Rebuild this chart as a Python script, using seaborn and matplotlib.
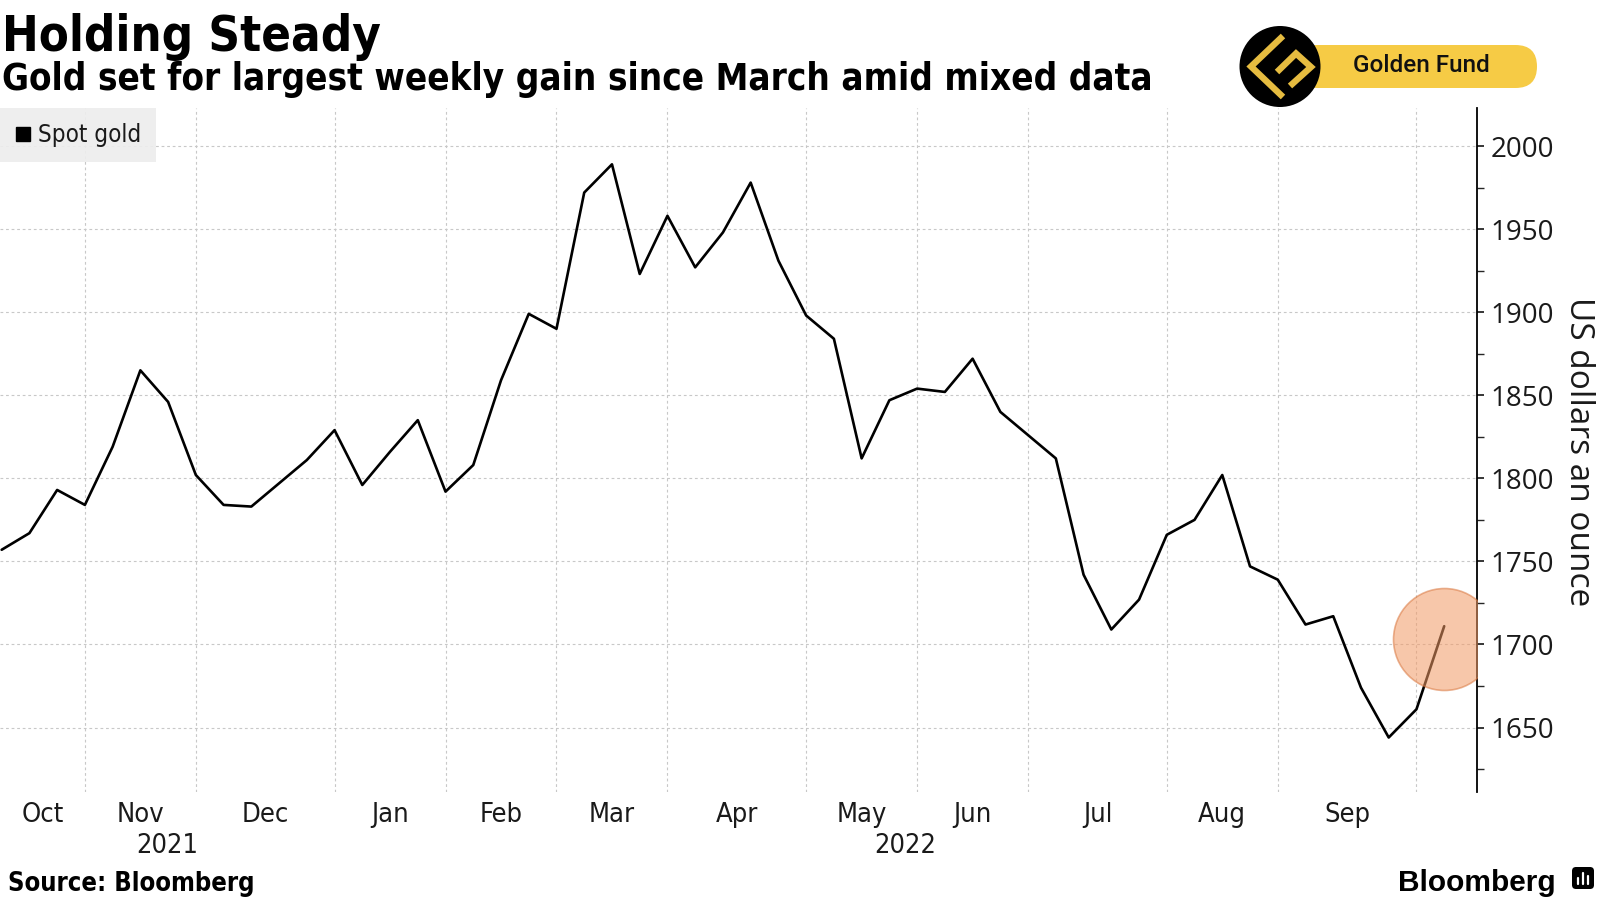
import numpy as np
import pandas as pd
import matplotlib
matplotlib.use("Agg")
import matplotlib.pyplot as plt
import matplotlib.dates as mdates
import matplotlib.ticker as mticker
from matplotlib.lines import Line2D
from matplotlib.patches import Circle, FancyBboxPatch
from matplotlib import font_manager as fm
import seaborn as sns

# ---------------- data ----------------
start_date = "2021-10-08"          # weekly observations (Fridays)
gold_price = [1757, 1767, 1793, 1784, 1819, 1865, 1846, 1802, 1784, 1783,
              1797, 1811, 1829, 1796, 1816, 1835, 1792, 1808, 1859, 1899,
              1890, 1972, 1989, 1923, 1958, 1927, 1948, 1978, 1931, 1898,
              1884, 1812, 1847, 1854, 1852, 1872, 1840, 1826, 1812, 1742,
              1709, 1727, 1766, 1775, 1802, 1747, 1739, 1712, 1717, 1674,
              1644, 1661, 1711]
month_labels = ["Oct", "Nov", "Dec", "Jan", "Feb", "Mar", "Apr", "May",
                "Jun", "Jul", "Aug", "Sep"]
year_labels = ["2021", "2022"]
y_ticks = [1650, 1700, 1750, 1800, 1850, 1900, 1950, 2000]
highlight_value = 1703
series_name = "Spot gold"
title = "Holding Steady"
subtitle = "Gold set for largest weekly gain since March amid mixed data"
source = "Source: Bloomberg"
y_label = "US dollars an ounce"

dates = pd.date_range(start_date, periods=len(gold_price), freq="7D")
df = pd.DataFrame({"date": dates, "price": gold_price})

# ---------------- fonts ----------------
sns.set_theme(style="white")
cond_ok = any(f.name == "DejaVu Sans" and str(f.stretch) not in ("normal", "500")
              for f in fm.fontManager.ttflist)
plt.rcParams["font.family"] = ["DejaVu Sans"]
if cond_ok:
    plt.rcParams["font.stretch"] = "condensed"
    SF = 1.0
else:
    SF = 0.9

# ---------------- figure ----------------
fig = plt.figure(figsize=(16, 9), dpi=100)
fig.patch.set_facecolor("white")
ax = fig.add_axes([0.0, 0.12, 1476.7 / 1600, 0.76])
ax.set_facecolor("white")

sns.lineplot(data=df, x="date", y="price", ax=ax, color="black",
             linewidth=1.9, legend=False, zorder=2)

# x range and month boundaries (last weekly point of each month)
x0 = mdates.date2num(dates[0]) - 0.42
x1 = mdates.date2num(dates[-1]) + 8.2
ax.set_xlim(x0, x1)
ax.set_ylim(1611.2, 2022.9)

df["month"] = df["date"].dt.to_period("M")
month_ends = pd.to_datetime(df.groupby("month")["date"].max().values[:-1])
bnums = mdates.date2num(month_ends)
edges = np.concatenate([[x0], bnums])
mids = (edges[:-1] + edges[1:]) / 2

ax.xaxis.set_major_locator(mticker.FixedLocator(bnums))
ax.xaxis.set_major_formatter(mticker.NullFormatter())
ax.xaxis.set_minor_locator(mticker.FixedLocator(mids))
ax.xaxis.set_minor_formatter(mticker.FixedFormatter(month_labels))
ax.tick_params(axis="x", which="both", length=0)
ax.tick_params(axis="x", which="minor", pad=7, labelsize=19.5 * SF,
               labelcolor="#1a1a1a")

# year labels
year_end = mdates.date2num(df.groupby(df["date"].dt.year)["date"].max().iloc[0])
year_mids = [(x0 + year_end) / 2, (year_end + x1) / 2]
for xm, lab in zip(year_mids, year_labels):
    ax.text(xm, -0.079, lab, transform=ax.get_xaxis_transform(),
            ha="center", va="center", fontsize=19.5 * SF, color="#1a1a1a")

# y axis on the right
ax.yaxis.tick_right()
ax.yaxis.set_major_locator(mticker.FixedLocator(y_ticks))
ax.yaxis.set_minor_locator(mticker.MultipleLocator(25))
ax.tick_params(axis="y", which="major", direction="out", length=5, width=1.3,
               pad=5, labelsize=20, labelcolor="#1a1a1a", right=True, left=False)
ax.tick_params(axis="y", which="minor", direction="out", length=5, width=1.0,
               right=True, left=False)
for lab in ax.get_yticklabels():
    lab.set_fontfamily("Open Sans")
    lab.set_fontstretch("normal")

ax.set_xlabel("")
ax.yaxis.set_label_position("right")
ax.set_ylabel(y_label, rotation=270, fontsize=24, family="Open Sans",
              fontstretch="normal", color="#1a1a1a")
ax.yaxis.label.set_verticalalignment("center")
ax.yaxis.label.set_horizontalalignment("center")
ax.yaxis.label.set_rotation_mode("anchor")
ax.yaxis.set_label_coords(1578 / 1476.7, 0.497)

for s in ["left", "top", "bottom"]:
    ax.spines[s].set_visible(False)
ax.spines["right"].set_color("black")
ax.spines["right"].set_linewidth(1.3)

ax.grid(True, which="major", axis="both", color="#C8C8C8",
        linestyle=(0, (2.5, 2.5)), linewidth=0.8, zorder=0)
ax.grid(False, which="minor")

# highlight circle around the latest reading
ax.scatter([dates[-1]], [highlight_value], s=5390, color="#F29A65",
           alpha=0.55, edgecolor="#D9773F", linewidth=1.2, zorder=3)

# legend
handle = Line2D([], [], marker="s", color="black", linestyle="None",
                markersize=10.5)
leg = ax.legend([handle], [series_name], loc="upper left",
                bbox_to_anchor=(0, 1), borderaxespad=0, frameon=True,
                fancybox=False, facecolor="#EDEDED", edgecolor="none",
                framealpha=0.9, fontsize=17.4 * SF, handlelength=0.7,
                handletextpad=0.25, borderpad=0.62)
for t in leg.get_texts():
    t.set_color("#1a1a1a")

# titles and footer
fig.text(0.001, 1 - 51 / 900, title, fontsize=35.2 * SF, fontweight="bold",
         va="baseline", ha="left", color="black")
fig.text(0.001, 1 - 90 / 900, subtitle, fontsize=26.4 * SF, fontweight="bold",
         va="baseline", ha="left", color="black")
fig.text(8 / 1600, 1 - 891 / 900, source, fontsize=18.4 * SF,
         fontweight="bold", va="baseline", ha="left", color="black")
fig.text(1398 / 1600, 1 - 891 / 900, "Bloomberg", fontsize=21.5,
         family="Liberation Sans", fontstretch="normal", fontweight="bold",
         va="baseline", ha="left", color="black")

# overlay for logos (pixel coordinates)
oax = fig.add_axes([0, 0, 1, 1], zorder=5)
oax.set_xlim(0, 1600)
oax.set_ylim(900, 0)
oax.axis("off")
oax.patch.set_visible(False)

oax.add_patch(FancyBboxPatch((1296, 45), 241, 43,
                             boxstyle="round,pad=0,rounding_size=21.5",
                             facecolor="#F6CB45", edgecolor="none"))
oax.add_patch(Circle((1280, 66.5), 40.5, facecolor="black", edgecolor="none"))
gold = "#E6BC40"
oax.add_line(Line2D([1283, 1251, 1283], [36, 66.5, 97], color=gold, lw=4.6,
                    solid_joinstyle="miter", solid_capstyle="butt"))
oax.add_line(Line2D([1277, 1296, 1311, 1290], [72, 53.5, 67, 86], color=gold,
                    lw=4.6, solid_joinstyle="miter", solid_capstyle="butt"))
oax.text(1421, 66, "Golden Fund", fontsize=17.5, family="Roboto",
         fontstretch="normal", fontweight="medium", ha="center",
         va="center", color="#111111")

# Bloomberg icon
oax.add_patch(FancyBboxPatch((1572, 867), 22, 22,
                             boxstyle="round,pad=0,rounding_size=4",
                             facecolor="black", edgecolor="none"))
for bx, top in zip([1578, 1583, 1588], [878, 873, 876]):
    oax.add_line(Line2D([bx, bx], [884, top], color="white", lw=1.6))

fig.savefig("out.png", dpi=100)
